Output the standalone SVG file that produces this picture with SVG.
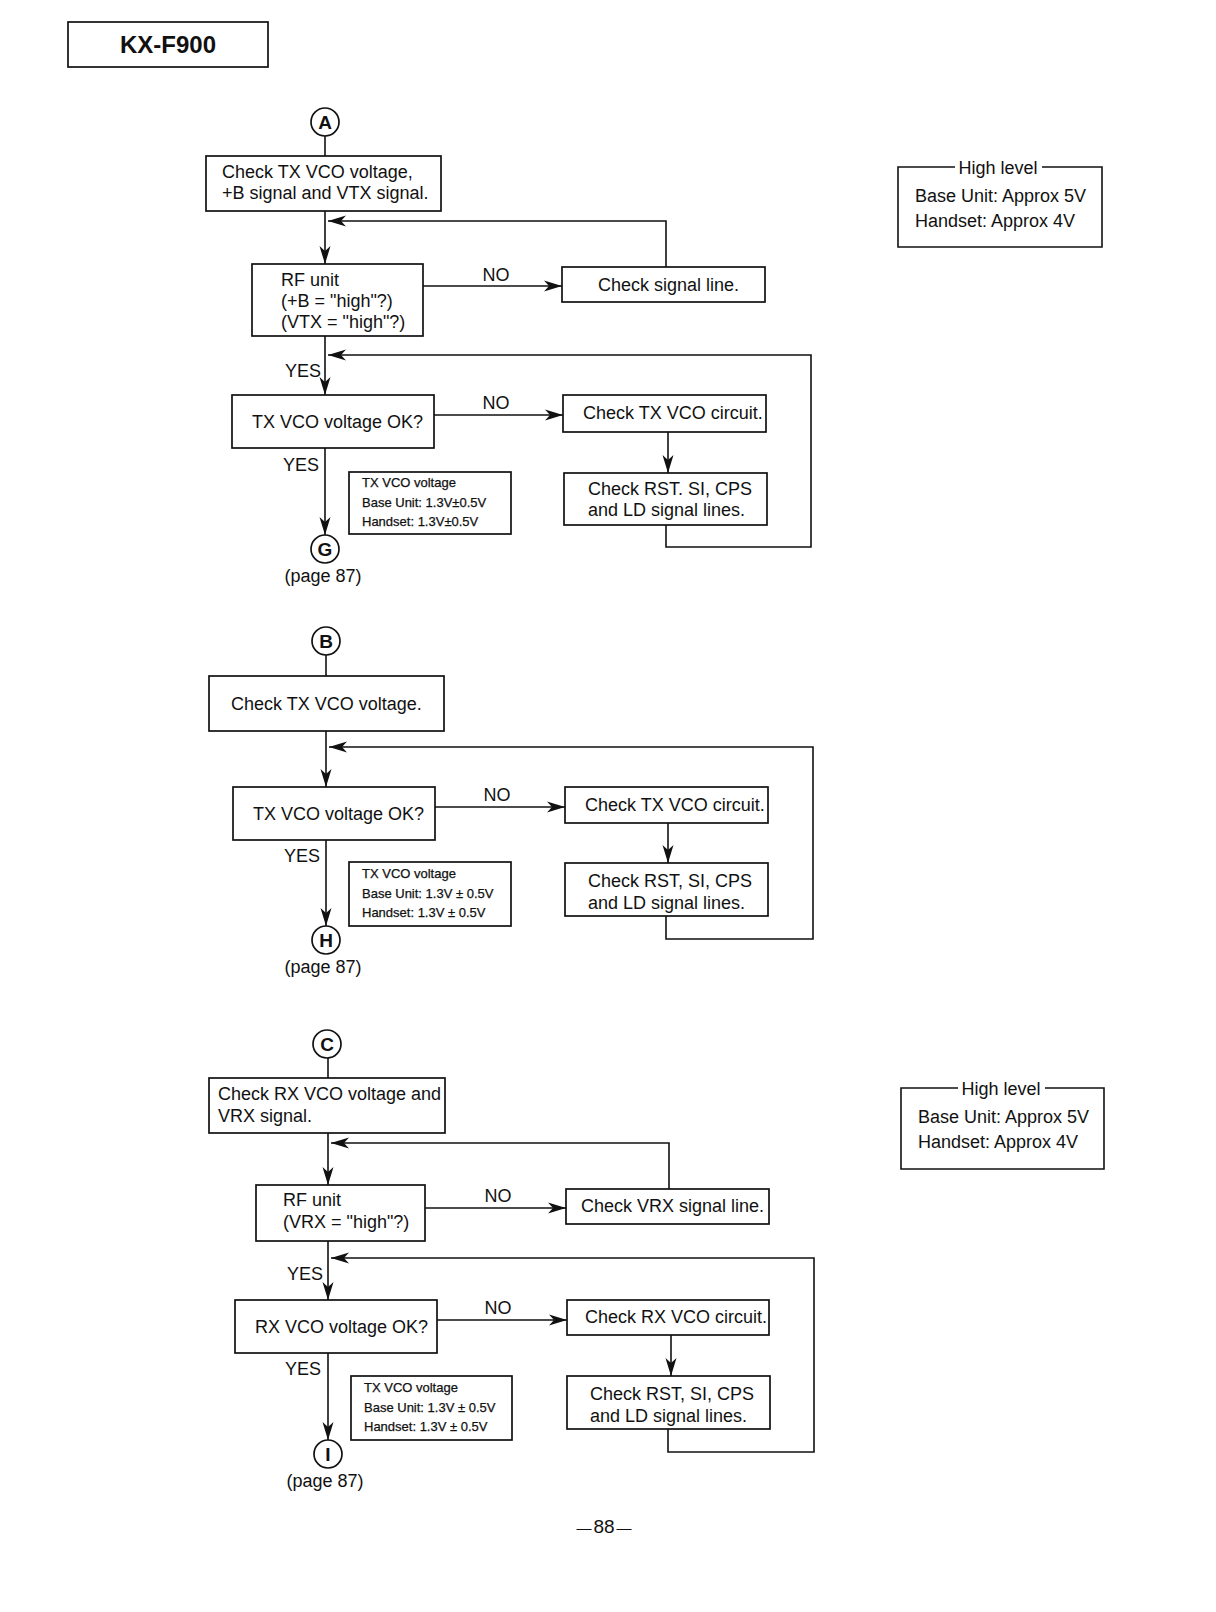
<svg xmlns="http://www.w3.org/2000/svg" width="1216" height="1612" viewBox="0 0 1216 1612">
<defs>
<marker id="ah" markerWidth="19" markerHeight="12" refX="18" refY="6" orient="auto" markerUnits="userSpaceOnUse"><path d="M0,0.5 L18,6 L0,11.5 L5,6 Z" fill="#111"/></marker>
<style>
.bx{fill:#fff;stroke:#111;stroke-width:1.7}
.ln{fill:none;stroke:#111;stroke-width:1.6}
.ar{fill:none;stroke:#111;stroke-width:1.6;marker-end:url(#ah)}
.t{font-family:"Liberation Sans",Arial,sans-serif;font-size:18px;fill:#111}
.s{font-family:"Liberation Sans",Arial,sans-serif;font-size:13px;fill:#111;stroke:#111;stroke-width:0.25}
.c{font-family:"Liberation Sans",Arial,sans-serif;font-size:19px;font-weight:bold;fill:#111;text-anchor:middle}
.m{text-anchor:middle}
.e{text-anchor:end}
</style>
</defs>
<rect width="1216" height="1612" fill="#fff"/>

<g id="title">
<rect class="bx" x="68" y="22" width="200" height="45"/>
<text class="t" x="168" y="53" style="font-size:24px;font-weight:bold;text-anchor:middle">KX-F900</text>
</g>

<g id="connectors">
<!-- Section A -->
<line class="ln" x1="325" y1="136" x2="325" y2="156"/>
<line class="ar" x1="325" y1="211" x2="325" y2="264"/>
<polyline class="ar" points="666,267 666,221 328,221"/>
<line class="ar" x1="423" y1="286" x2="562" y2="286"/>
<text class="t m" x="496" y="281">NO</text>
<line class="ar" x1="325" y1="336" x2="325" y2="395"/>
<text class="t e" x="321" y="377">YES</text>
<polyline class="ar" points="666,525 666,547 811,547 811,355 328,355"/>
<line class="ar" x1="434" y1="415" x2="563" y2="415"/>
<text class="t m" x="496" y="409">NO</text>
<line class="ar" x1="668" y1="432" x2="668" y2="473"/>
<line class="ar" x1="325" y1="448" x2="325" y2="535"/>
<text class="t e" x="319" y="471">YES</text>

<!-- Section B -->
<line class="ln" x1="326" y1="655" x2="326" y2="676"/>
<line class="ar" x1="326" y1="731" x2="326" y2="787"/>
<polyline class="ar" points="666,916 666,939 813,939 813,747 329,747"/>
<line class="ar" x1="435" y1="807" x2="565" y2="807"/>
<text class="t m" x="497" y="801">NO</text>
<line class="ar" x1="668" y1="823" x2="668" y2="863"/>
<line class="ar" x1="326" y1="840" x2="326" y2="926"/>
<text class="t e" x="320" y="862">YES</text>

<!-- Section C -->
<line class="ln" x1="328" y1="1058" x2="328" y2="1078"/>
<line class="ar" x1="328" y1="1133" x2="328" y2="1185"/>
<polyline class="ar" points="669,1189 669,1143 331,1143"/>
<line class="ar" x1="425" y1="1208" x2="566" y2="1208"/>
<text class="t m" x="498" y="1202">NO</text>
<line class="ar" x1="328" y1="1241" x2="328" y2="1300"/>
<text class="t e" x="323" y="1280">YES</text>
<polyline class="ar" points="668,1429 668,1452 814,1452 814,1258 331,1258"/>
<line class="ar" x1="437" y1="1320" x2="567" y2="1320"/>
<text class="t m" x="498" y="1314">NO</text>
<line class="ar" x1="671" y1="1335" x2="671" y2="1376"/>
<line class="ar" x1="328" y1="1353" x2="328" y2="1440"/>
<text class="t e" x="321" y="1375">YES</text>
</g>

<g id="A"><circle class="bx" cx="325" cy="122" r="14"/><text class="c" x="325" y="129">A</text></g>
<g id="a1"><rect class="bx" x="206" y="156" width="235" height="55"/>
<text class="t" x="222" y="178">Check TX VCO voltage,</text>
<text class="t" x="222" y="199">+B signal and VTX signal.</text></g>
<g id="a2"><rect class="bx" x="252" y="264" width="171" height="72"/>
<text class="t" x="281" y="286">RF unit</text>
<text class="t" x="281" y="307">(+B = "high"?)</text>
<text class="t" x="281" y="328">(VTX = "high"?)</text></g>
<g id="a3"><rect class="bx" x="562" y="267" width="203" height="35"/>
<text class="t" x="598" y="291">Check signal line.</text></g>
<g id="a4"><rect class="bx" x="232" y="395" width="202" height="53"/>
<text class="t" x="252" y="428">TX VCO voltage OK?</text></g>
<g id="a5"><rect class="bx" x="563" y="395" width="203" height="37"/>
<text class="t" x="583" y="419">Check TX VCO circuit.</text></g>
<g id="a6"><rect class="bx" x="564" y="473" width="203" height="52"/>
<text class="t" x="588" y="495">Check RST. SI, CPS</text>
<text class="t" x="588" y="516">and LD signal lines.</text></g>
<g id="a7"><rect class="bx" x="349" y="472" width="162" height="62"/>
<text class="s" x="362" y="487">TX VCO voltage</text>
<text class="s" x="362" y="507">Base Unit: 1.3V±0.5V</text>
<text class="s" x="362" y="526">Handset: 1.3V±0.5V</text></g>
<g id="G"><circle class="bx" cx="325" cy="549" r="14"/><text class="c" x="325" y="556">G</text>
<text class="t m" x="323" y="582">(page 87)</text></g>
<g id="hl1">
<polyline class="ln" points="955,167 898,167 898,247 1102,247 1102,167 1042,167"/>
<text class="t m" x="998" y="174">High level</text>
<text class="t" x="915" y="202">Base Unit: Approx 5V</text>
<text class="t" x="915" y="227">Handset: Approx 4V</text></g>

<g id="B"><circle class="bx" cx="326" cy="641" r="14"/><text class="c" x="326" y="648">B</text></g>
<g id="b1"><rect class="bx" x="209" y="676" width="235" height="55"/>
<text class="t" x="231" y="710">Check TX VCO voltage.</text></g>
<g id="b2"><rect class="bx" x="233" y="787" width="202" height="53"/>
<text class="t" x="253" y="820">TX VCO voltage OK?</text></g>
<g id="b3"><rect class="bx" x="565" y="787" width="203" height="36"/>
<text class="t" x="585" y="811">Check TX VCO circuit.</text></g>
<g id="b4"><rect class="bx" x="565" y="863" width="203" height="53"/>
<text class="t" x="588" y="887">Check RST,  SI, CPS</text>
<text class="t" x="588" y="909">and LD signal lines.</text></g>
<g id="b5"><rect class="bx" x="349" y="862" width="162" height="64"/>
<text class="s" x="362" y="877.5">TX VCO voltage</text>
<text class="s" x="362" y="898">Base Unit: 1.3V ± 0.5V</text>
<text class="s" x="362" y="917">Handset: 1.3V ± 0.5V</text></g>
<g id="H"><circle class="bx" cx="326" cy="940" r="14"/><text class="c" x="326" y="947">H</text>
<text class="t m" x="323" y="973">(page 87)</text></g>

<g id="C"><circle class="bx" cx="327" cy="1044" r="14"/><text class="c" x="327" y="1051">C</text></g>
<g id="c1"><rect class="bx" x="209" y="1078" width="236" height="55"/>
<text class="t" x="218" y="1100">Check RX VCO voltage and</text>
<text class="t" x="218" y="1122">VRX signal.</text></g>
<g id="c2"><rect class="bx" x="256" y="1185" width="169" height="56"/>
<text class="t" x="283" y="1206">RF unit</text>
<text class="t" x="283" y="1228">(VRX = "high"?)</text></g>
<g id="c3"><rect class="bx" x="566" y="1189" width="203" height="35"/>
<text class="t" x="581" y="1212">Check VRX signal line.</text></g>
<g id="c4"><rect class="bx" x="235" y="1300" width="202" height="53"/>
<text class="t" x="255" y="1333">RX VCO voltage OK?</text></g>
<g id="c5"><rect class="bx" x="567" y="1300" width="202" height="35"/>
<text class="t" x="585" y="1323">Check RX VCO circuit.</text></g>
<g id="c6"><rect class="bx" x="567" y="1376" width="203" height="53"/>
<text class="t" x="590" y="1400">Check RST, SI, CPS</text>
<text class="t" x="590" y="1422">and LD signal lines.</text></g>
<g id="c7"><rect class="bx" x="351" y="1376" width="161" height="64"/>
<text class="s" x="364" y="1392">TX VCO voltage</text>
<text class="s" x="364" y="1412">Base Unit: 1.3V ± 0.5V</text>
<text class="s" x="364" y="1431">Handset: 1.3V ± 0.5V</text></g>
<g id="I"><circle class="bx" cx="328" cy="1454" r="14"/><text class="c" x="328" y="1461">I</text>
<text class="t m" x="325" y="1487">(page 87)</text></g>
<g id="hl2">
<polyline class="ln" points="958,1088 901,1088 901,1169 1104,1169 1104,1088 1045,1088"/>
<text class="t m" x="1001" y="1095">High level</text>
<text class="t" x="918" y="1123">Base Unit: Approx 5V</text>
<text class="t" x="918" y="1148">Handset: Approx 4V</text></g>

<g id="pagenum"><text class="t m" x="604" y="1533" style="font-size:19px"><tspan style="font-size:15px">—</tspan><tspan dx="2">88</tspan><tspan dx="2" style="font-size:15px">—</tspan></text></g>
</svg>
